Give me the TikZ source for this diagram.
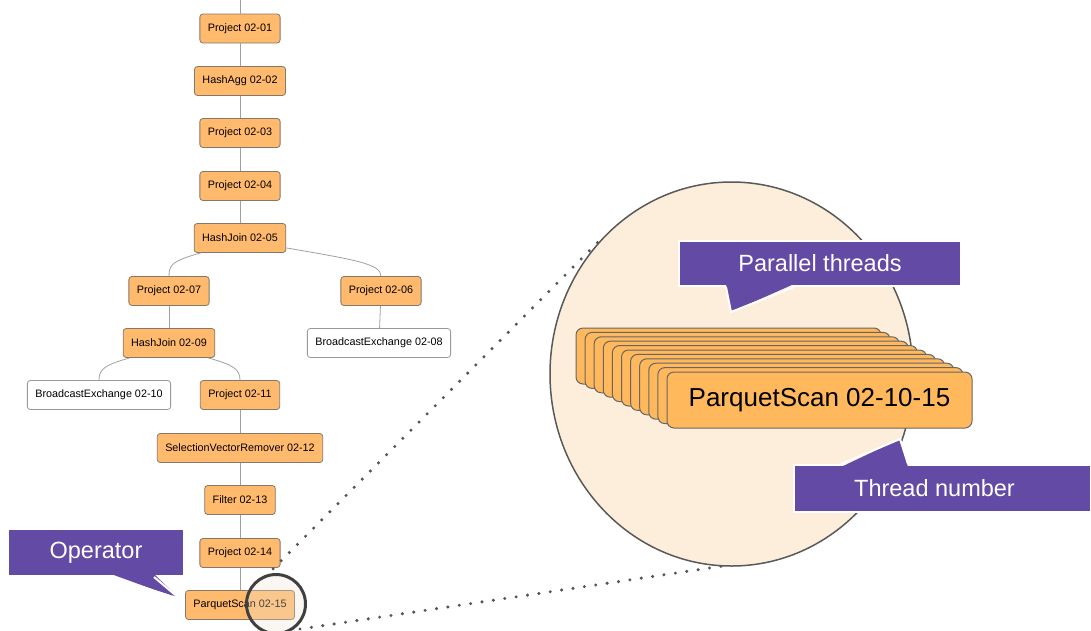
\documentclass[tikz,border=0pt]{standalone}
\usepackage{fontspec}
\setmainfont{Liberation Sans}
\usetikzlibrary{positioning,calc}
\definecolor{opfill}{HTML}{FFBA6E}
\definecolor{opline}{HTML}{85776A}
\definecolor{thrfill}{HTML}{FFB85C}
\definecolor{zoomfill}{HTML}{FDEEDB}
\definecolor{lensfill}{HTML}{EDE3D3}
\definecolor{callpurple}{HTML}{634AA4}
\definecolor{edgegray}{HTML}{A0A0A0}
\definecolor{dotgray}{HTML}{555555}

\begin{document}
\begin{tikzpicture}[x=1pt,y=-1pt]
\tikzset{
  op/.style={draw=opline, fill=opfill, rounded corners=3pt, line width=0.8pt,
    minimum height=29pt, inner xsep=8pt, font=\fontsize{10.8}{12}\selectfont},
  xchg/.style={op, fill=white, draw=black!40},
  tedge/.style={draw=edgegray, line width=0.8pt},
  thr/.style={draw=black!60, fill=thrfill, rounded corners=7pt, line width=1pt,
    minimum width=305pt, minimum height=56pt, font=\fontsize{26}{30}\selectfont},
  callout/.style={fill=callpurple, draw=white, line width=2pt, text=white,
    font=\fontsize{23.5}{28}\selectfont},
  dots/.style={dotgray, line width=3.4pt, line cap=round, dash pattern=on 0pt off 11.5pt}
}
\useasboundingbox (0,0) rectangle (1091,630);

% plan tree
\node[op] (p1) at (240,28.5) {Project 02-01};
\node[op] (ha2) at (240,81) {HashAgg 02-02};
\node[op] (p3) at (240,133) {Project 02-03};
\node[op] (p4) at (240,186) {Project 02-04};
\node[op] (hj5) at (240,238) {HashJoin 02-05};
\node[op] (p7) at (169,291) {Project 02-07};
\node[op] (p6) at (381,291) {Project 02-06};
\node[op] (hj9) at (169,343) {HashJoin 02-09};
\node[xchg] (be8) at (379,343) {BroadcastExchange 02-08};
\node[xchg] (be10) at (99,395) {BroadcastExchange 02-10};
\node[op] (p11) at (240,395) {Project 02-11};
\node[op] (svr12) at (240,448) {SelectionVectorRemover 02-12};
\node[op] (f13) at (240,500) {Filter 02-13};
\node[op] (p14) at (240,553) {Project 02-14};
\node[op] (ps15) at (240,605) {ParquetScan 02-15};

\coordinate (root) at (240,0);
\draw[tedge] (root) -- (p1);
\foreach \a/\b in {p1/ha2, ha2/p3, p3/p4, p4/hj5, p7/hj9, p6/be8, p11/svr12, svr12/f13, f13/p14, p14/ps15}
  \draw[tedge] (\a) -- (\b);
\draw[tedge] ($(hj5.south west)+(7,0)$) .. controls +(-28,8) and +(0,-12) .. (p7.north);
\draw[tedge] ($(hj5.south east)+(0,-5)$) .. controls +(70,12) and +(0,-12) .. (p6.north);
\draw[tedge] ($(hj9.south west)+(7,0)$) .. controls +(-25,7) and +(0,-11) .. (be10.north);
\draw[tedge] ($(hj9.south east)+(-7,0)$) .. controls +(25,7) and +(0,-11) .. (p11.north);

% zoom lines
\coordinate (lensA) at (265,577);
\coordinate (lensB) at (300,629);
\coordinate (zoomA) at (600,240);
\coordinate (zoomB) at (723,566);
\draw[dots] (lensA) -- (zoomA);
\draw[dots] (lensB) -- (zoomB);

\draw[draw=black!65, line width=1.5pt, fill=zoomfill] (731.5,374) ellipse [x radius=181.5, y radius=192];

% threads
\foreach \k in {0,...,9}
  \node[thr] (thr\k) at ({728.5+9.1*\k},{356+4.4*\k}) {};
\node[thr] (thr10) at (819.5,400) {ParquetScan 02-10-15};

\draw[draw=black!75, line width=3pt, fill=lensfill, fill opacity=0.3] (276,604) circle [radius=29.5];

% callouts
\node[callout, minimum width=176pt, minimum height=47pt] (opcall) at (96,552.5) {Operator};
\coordinate (opTip) at (180,599);
\fill[callpurple] ($(opcall.south west)+(104,-3)$) -- (opTip) -- ($(opcall.south west)+(147,-3)$) -- cycle;
\draw[white, line width=2pt] ($(opcall.south west)+(104,0)$) -- (opTip) -- ($(opcall.south west)+(147,0)$);

\node[callout, minimum width=282pt, minimum height=45pt] (parcall) at (820,263.5) {Parallel threads};
\coordinate (parTip) at (731,312);
\fill[callpurple] ($(parcall.south west)+(48,-3)$) -- (parTip) -- ($(parcall.south west)+(116,-3)$) -- cycle;
\draw[white, line width=2pt] ($(parcall.south west)+(48,0)$) -- (parTip) -- ($(parcall.south west)+(116,0)$);

\node[callout, minimum width=297pt, minimum height=47pt] (numcall) at (942.5,488.5) {\hspace*{-16pt}Thread number};
\coordinate (numTip) at (900,439);
\fill[callpurple] ($(numcall.north west)+(48,3)$) -- (numTip) -- ($(numcall.north west)+(115,3)$) -- cycle;
\draw[white, line width=2pt] ($(numcall.north west)+(48,0)$) -- (numTip) -- ($(numcall.north west)+(115,0)$);
\end{tikzpicture}
\end{document}
